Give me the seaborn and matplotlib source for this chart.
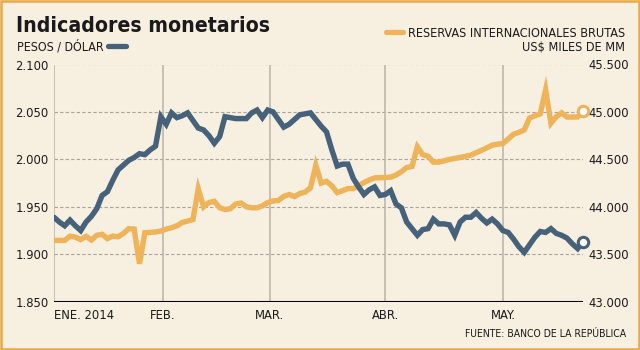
import matplotlib
matplotlib.use("Agg")
import matplotlib.pyplot as plt
import seaborn as sns
import pandas as pd

# ---------------- data ----------------
sesion = list(range(100))
pesos_dolar = [
    1939, 1934, 1930, 1936, 1930, 1925, 1934, 1940, 1948, 1962,
    1966, 1978, 1989, 1994, 1999, 2002, 2006, 2005, 2010, 2014,
    2045, 2037, 2049, 2044, 2046, 2049, 2041, 2033, 2031, 2025,
    2017, 2024, 2045, 2044, 2043, 2043, 2043, 2049, 2052, 2044,
    2052, 2050, 2042, 2034, 2037, 2042, 2047, 2048, 2049, 2042,
    2035, 2029, 2010, 1993, 1995, 1995, 1980, 1971, 1963, 1968,
    1971, 1962, 1963, 1967, 1953, 1949, 1934, 1927, 1920, 1926,
    1927, 1937, 1932, 1932, 1931, 1920, 1934, 1939, 1939, 1944,
    1938, 1933, 1937, 1932, 1925, 1923, 1916, 1908, 1902, 1910,
    1918, 1924, 1923, 1927, 1922, 1920, 1917, 1911, 1906, 1913,
]
reservas = [  # US$ millones
    43646, 43646, 43646, 43690, 43680, 43655, 43688, 43650, 43700, 43710,
    43665, 43692, 43684, 43720, 43770, 43765, 43400, 43727, 43730, 43735,
    43745, 43765, 43780, 43800, 43835, 43850, 43866, 44190, 44000, 44045,
    44058, 43990, 43972, 43980, 44030, 44040, 44000, 43990, 43990, 44010,
    44045, 44062, 44067, 44110, 44130, 44108, 44140, 44155, 44200, 44438,
    44250, 44268, 44220, 44150, 44170, 44192, 44192, 44222, 44255, 44283,
    44305, 44307, 44309, 44312, 44335, 44370, 44414, 44425, 44632, 44550,
    44533, 44471, 44471, 44485, 44500, 44510, 44520, 44532, 44545, 44570,
    44595, 44622, 44650, 44660, 44667, 44715, 44765, 44785, 44810, 44936,
    44960, 44980, 45232, 44882, 44950, 44990, 44946, 44946, 44948, 45007,
]
meses = ["ENE. 2014", "FEB.", "MAR.", "ABR.", "MAY."]
inicio_mes = [0, 20.4, 40.4, 62.0, 84.1]
ticks_izq = [1850, 1900, 1950, 2000, 2050, 2100]
ticks_der = [43000, 43500, 44000, 44500, 45000, 45500]

titulo = "Indicadores monetarios"
serie_izq = "PESOS / DÓLAR"
serie_der = "RESERVAS INTERNACIONALES BRUTAS"
unidad_der = "US$ MILES DE MM"
fuente = "FUENTE: BANCO DE LA REPÚBLICA"

# ---------------- style ----------------
BG = "#F7F0E1"
BORDER = "#E9A94A"
BLUE = "#46627A"
ORANGE = "#EFB35A"
GRID = "#A8A49C"
VLINE = "#B9B2A6"
TXT = "#1A1A1A"

sns.set_style("white")
plt.rcParams["font.family"] = ["DejaVu Sans"]
plt.rcParams["font.stretch"] = "condensed"

df = pd.DataFrame({"sesion": sesion, "pesos": pesos_dolar, "reservas": reservas})

W, H = 640, 350
fig = plt.figure(figsize=(W / 100, H / 100), dpi=100, facecolor=BG)

def px(x, y):
    return x / W, 1 - y / H

L, R, T, B = 54, 583, 64.5, 301.7
rect = [L / W, 1 - B / H, (R - L) / W, (B - T) / H]
ax2 = fig.add_axes(rect)
ax = fig.add_axes(rect, sharex=ax2)
ax.patch.set_visible(False)
ax2.set_facecolor(BG)

def fmt(v):
    return f"{v:,.0f}".replace(",", ".")

for t in ticks_der[1:]:
    ax2.axhline(t, color=GRID, lw=0.8, ls=(0, (3, 2)), zorder=1)
for m in inicio_mes:
    ax2.axvline(m, color=VLINE, lw=1.1, zorder=1)
ax2.axhline(ticks_der[0], color="black", lw=1.5, zorder=2)

sns.lineplot(data=df, x="sesion", y="reservas", ax=ax2, color=ORANGE, lw=3.9,
             solid_joinstyle="miter", zorder=3)
sns.lineplot(data=df, x="sesion", y="pesos", ax=ax, color=BLUE, lw=3.9,
             solid_joinstyle="miter", zorder=3)
ax2.plot(sesion[-1:], reservas[-1:], "o", ms=7.5, mfc="white", mec=ORANGE,
         mew=2.2, clip_on=False, zorder=5)
ax.plot(sesion[-1:], pesos_dolar[-1:], "o", ms=7.5, mfc="white", mec=BLUE,
        mew=2.2, clip_on=False, zorder=5)

ax.set_xlim(sesion[0], sesion[-1])
ax.set_ylim(ticks_izq[0], ticks_izq[-1])
ax2.set_ylim(ticks_der[0], ticks_der[-1])

for a in (ax, ax2):
    for s in a.spines.values():
        s.set_visible(False)
    a.set_xlabel("")
    a.set_ylabel("")

TICK = 9.3
ax.set_yticks(ticks_izq)
ax.set_yticklabels([fmt(v) for v in ticks_izq])
ax.yaxis.tick_left()
ax.tick_params(axis="y", length=0, pad=4, labelsize=TICK, labelcolor=TXT)
ax2.yaxis.tick_right()
ax2.set_yticks(ticks_der)
ax2.set_yticklabels([fmt(v) for v in ticks_der])
ax2.tick_params(axis="y", length=0, pad=4, labelsize=TICK, labelcolor=TXT)

ax.set_xticks(inicio_mes)
ax.set_xticklabels(meses)
ax.tick_params(axis="x", length=0, pad=5, labelsize=TICK, labelcolor=TXT)
ax.get_xticklabels()[0].set_ha("left")
ax2.tick_params(axis="x", bottom=False, labelbottom=False)

fig.text(*px(16, 32), titulo, fontsize=15.2, fontweight="bold", color=TXT, va="baseline")
fig.text(*px(17, 51), serie_izq, fontsize=8.9, color=TXT, va="baseline")
fig.add_artist(plt.Line2D([108 / W, 126 / W], [1 - 46 / H] * 2, color=BLUE, lw=3.8,
                          solid_capstyle="round"))
fig.add_artist(plt.Line2D([386 / W, 403 / W], [1 - 31.5 / H] * 2, color=ORANGE, lw=3.8,
                          solid_capstyle="round"))
fig.text(*px(625, 37), serie_der, fontsize=9.1, color=TXT, va="baseline", ha="right")
fig.text(*px(625, 51), unidad_der, fontsize=9.1, color=TXT, va="baseline", ha="right")
fig.text(*px(626, 337), fuente, fontsize=7.5, color=TXT, va="baseline", ha="right")

fig.add_artist(plt.Rectangle((0.001, 0.002), 0.997, 0.996, transform=fig.transFigure,
                             fill=False, ec=BORDER, lw=1.8))

fig.savefig("out.png", dpi=100, facecolor=BG)
